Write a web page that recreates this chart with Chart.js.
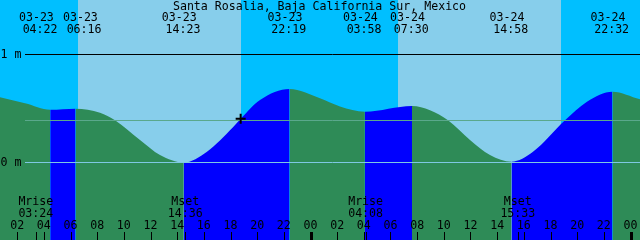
<!DOCTYPE html>
<html><head><meta charset="utf-8">
<script src="https://cdn.jsdelivr.net/npm/chart.js@4/dist/chart.umd.min.js"></script>
<style>html,body{margin:0;padding:0;background:#00BFFF;overflow:hidden}canvas{display:block}</style>
</head><body>
<canvas id="c" width="640" height="240"></canvas>
<script>
// ---- data (hours counted from 03-23 00:00) ----
const chartTitle = 'Santa Rosalia, Baja California Sur, Mexico';
const tideHours  = [0.6, 2.475, 4.367, 6.267, 8.1, 9.225, 11.1, 12.6, 14.383, 16.125, 18.075, 18.65, 20.1, 22.317, 24.6, 26.1, 27.967, 31.5, 32.85, 34.2, 35.85, 37.35, 38.967, 40.575, 42.975, 44.625, 46.533, 48.6];
const tideLevels = [0.599, 0.543, 0.484, 0.494, 0.457, 0.386, 0.204, 0.065, -0.005, 0.095, 0.321, 0.40, 0.574, 0.676, 0.59, 0.515, 0.466, 0.519, 0.48, 0.386, 0.204, 0.065, 0.003, 0.095, 0.386, 0.558, 0.651, 0.58];
const eventDates = ['03-23','03-23','03-23','03-23','03-24','03-24','03-24','03-24'];
const eventTimes = ['04:22','06:16','14:23','22:19','03:58','07:30','14:58','22:32'];
const eventKinds = ['low','high','low','high','low','high','low','high'];
const sunriseHours = [6.45, 30.45];
const sunsetHours  = [18.675, 42.675];
const moonNames = ['Mrise','Mset','Mrise','Mset'];
const moonDays  = [0, 0, 1, 1];
const moonTimes = ['03:24','14:36','04:08','15:33'];
const hourTicks  = [2,4,6,8,10,12,14,16,18,20,22,24,26,28,30,32,34,36,38,40,42,44,46,48];
const hourLabels = ['02','04','06','08','10','12','14','16','18','20','22','00','02','04','06','08','10','12','14','16','18','20','22','00'];
const levelTicks  = [1, 0];
const levelLabels = ['1 m', '0 m'];
const meanLevel = 0.386;
const nowHour = [18.65];
const nowLevel = [0.40];

// ---- helpers ----
const dayIndex = d => (d === '03-23' ? 0 : 1);
const toHour = (day, t) => { const [h, m] = t.split(':').map(Number); return day * 24 + h + m / 60; };
const eventHours = eventTimes.map((t, i) => toHour(dayIndex(eventDates[i]), t));
const moonHours = moonTimes.map((t, i) => toHour(moonDays[i], t));

const COL = { night:'#00BFFF', day:'#87CEEB', flood:'#0000FF', ebb:'#2E8B57', zero:'#7EC8E3', mean:'#5AA88C' };
const FONT = '11.6px "DejaVu Sans Mono", "Liberation Mono", monospace';

function segColor(ctx) {
  const mid = (ctx.p0.parsed.x + ctx.p1.parsed.x) / 2;
  let kind = 'high';
  for (let i = 0; i < eventHours.length; i++) if (eventHours[i] <= mid + 1e-6) kind = eventKinds[i];
  return kind === 'low' ? COL.flood : COL.ebb;
}

const skyPlugin = {
  id: 'sky',
  beforeDatasetsDraw(chart) {
    const { ctx, chartArea: a, scales: { x } } = chart;
    ctx.save();
    ctx.fillStyle = COL.night;
    ctx.fillRect(a.left, a.top, a.right - a.left, a.bottom - a.top);
    ctx.fillStyle = COL.day;
    sunriseHours.forEach((sr, i) => {
      const x0 = Math.round(x.getPixelForValue(sr));
      const x1 = Math.round(x.getPixelForValue(sunsetHours[i]));
      ctx.fillRect(x0, a.top, x1 - x0, a.bottom - a.top);
    });
    ctx.restore();
  },
  afterDatasetDraw(chart, args) {
    if (args.index !== 0) return;
    const { ctx, chartArea: a, scales: { y } } = chart;
    const x0 = 25;
    ctx.save();
    const hline = (v, c) => {
      const py = Math.round(y.getPixelForValue(v)) + 0.5;
      ctx.strokeStyle = c; ctx.lineWidth = 1;
      ctx.beginPath(); ctx.moveTo(x0, py); ctx.lineTo(a.right, py); ctx.stroke();
    };
    hline(meanLevel, COL.mean);
    hline(0, COL.zero);
    hline(1, '#000000');
    ctx.restore();
  },
  afterDraw(chart) {
    const { ctx, chartArea: a, scales: { x, y } } = chart;
    ctx.save();
    ctx.font = FONT;
    ctx.fillStyle = '#000';
    ctx.textBaseline = 'middle';
    ctx.textAlign = 'center';
    ctx.fillText(chartTitle, 319.5, 6.5);
    const centers = eventHours.map(h => x.getPixelForValue(h));
    const minSep = 44;
    for (let i = 0; i < centers.length - 1; i++) {
      const gap = centers[i + 1] - centers[i];
      if (gap < minSep) { const s = (minSep - gap) / 2; centers[i] -= s; centers[i + 1] += s; }
    }
    centers.forEach((cx, i) => {
      ctx.fillText(eventDates[i], cx - 4.5, 17.5);
      ctx.fillText(eventTimes[i], cx - 0.8, 29.5);
    });
    ctx.textAlign = 'left';
    levelTicks.forEach((v, i) => ctx.fillText(levelLabels[i], 0.5, Math.round(y.getPixelForValue(v)) + 0.5));
    ctx.textAlign = 'center';
    moonHours.forEach((h, i) => {
      const cx = x.getPixelForValue(h) - 1.5;
      ctx.fillText(moonNames[i], cx, 201.5);
      ctx.fillText(moonTimes[i], cx, 213.5);
    });
    hourTicks.forEach((h, i) => {
      const px = x.getPixelForValue(h);
      ctx.fillText(hourLabels[i], px - 1.5, 225.5);
      const tx = Math.floor(px - 1);
      if (h % 24 === 0) ctx.fillRect(tx - 1, 232, 3, 8);
      else ctx.fillRect(tx, 232, 1, 8);
    });
    moonHours.forEach(h => ctx.fillRect(Math.floor(x.getPixelForValue(h) - 1), 232, 1, 8));
    ctx.restore();
  }
};

new Chart(document.getElementById('c'), {
  type: 'line',
  data: {
    datasets: [
      {
        label: 'tide',
        data: tideHours.map((h, i) => ({ x: h, y: tideLevels[i] })),
        order: 2,
        borderWidth: 0,
        borderColor: 'rgba(0,0,0,0)',
        pointRadius: 0,
        cubicInterpolationMode: 'monotone',
        fill: 'start',
        backgroundColor: COL.ebb,
        segment: { backgroundColor: segColor }
      },
      {
        type: 'scatter',
        label: 'now',
        data: nowHour.map((h, i) => ({ x: h, y: nowLevel[i] })),
        order: 1,
        pointStyle: 'cross',
        pointRadius: 5,
        borderColor: '#000',
        borderWidth: 2,
        backgroundColor: '#000',
        clip: false
      }
    ]
  },
  options: {
    responsive: false,
    animation: false,
    devicePixelRatio: 1,
    layout: { padding: 0, autoPadding: false },
    plugins: { legend: { display: false }, tooltip: { enabled: false } },
    scales: {
      x: { type: 'linear', min: 0.6, max: 48.6, display: false },
      y: { type: 'linear', min: -0.7222, max: 1.5, display: false }
    }
  },
  plugins: [skyPlugin]
});
</script>
</body></html>
